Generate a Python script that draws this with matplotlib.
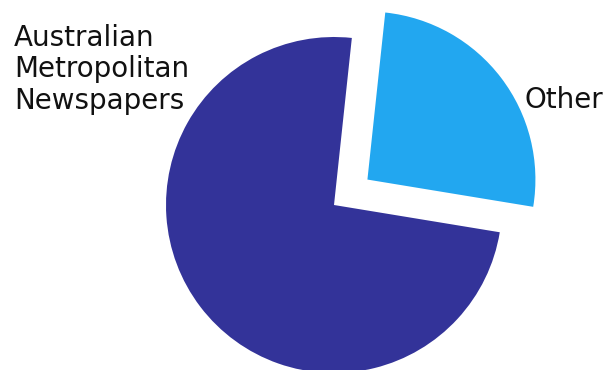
import matplotlib
matplotlib.use("Agg")
import matplotlib.pyplot as plt

# slice data
labels = ["Australian\nMetropolitan\nNewspapers", "Other"]
shares = [74.1, 25.9]
colors = ["#333399", "#22A7F0"]
explode = [0.0, 0.25]  # fraction of radius

W, H = 610, 370
R = 168
fig = plt.figure(figsize=(W / 100, H / 100), dpi=100)
ax = fig.add_axes([0, 0, 1, 1])

# matplotlib's explode is in data units, so scale it by the radius
ax.pie(shares, colors=colors, explode=[e * R for e in explode],
       startangle=83.9, radius=R, center=(334, H - 205),
       wedgeprops={"linewidth": 0})
ax.set_xlim(0, W)
ax.set_ylim(0, H)
ax.set_aspect("equal")
ax.axis("off")

ax.text(14, H - 24, labels[0], ha="left", va="top", fontsize=20,
        color="#111111", linespacing=1.15)
ax.text(524, H - 100, labels[1], ha="left", va="center", fontsize=20,
        color="#111111")

fig.savefig("out.png", dpi=100)
